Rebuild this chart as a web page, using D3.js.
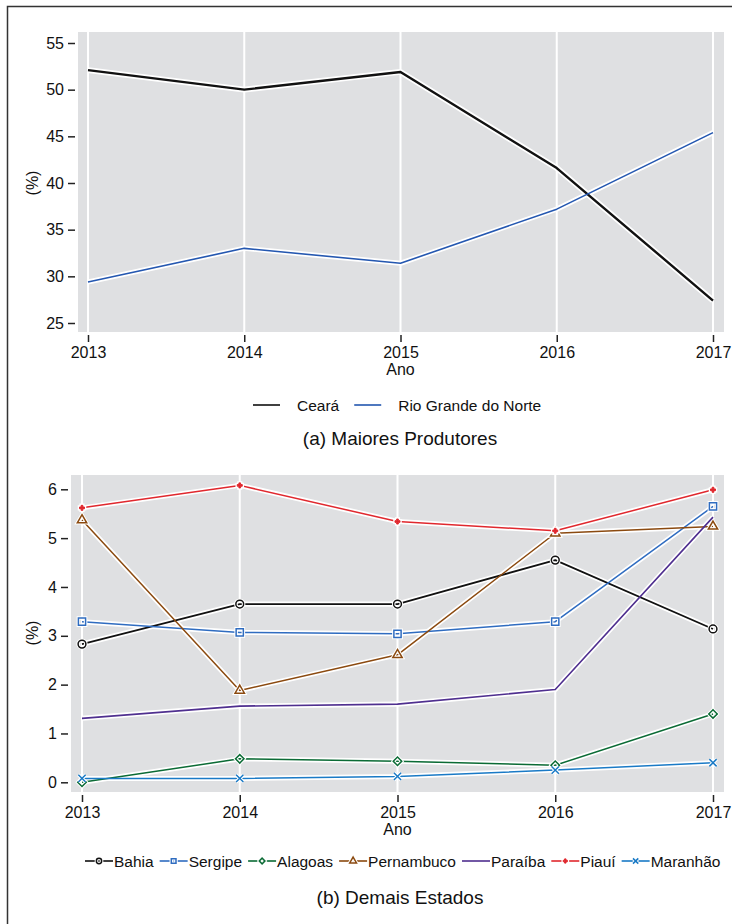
<!DOCTYPE html>
<html>
<head>
<meta charset="utf-8">
<script src="https://cdn.jsdelivr.net/npm/d3@7"></script>
<style>
  html, body { margin: 0; padding: 0; background: #fff; }
  svg { display: block; font-family: "Liberation Sans", Arial, sans-serif; }
</style>
</head>
<body>
<svg id="chart" width="732" height="924"></svg>
<script>
// Anos (eixo x comum aos dois painéis)
const years = [2013, 2014, 2015, 2016, 2017];

// Painel (a): maiores produtores, participação em %
const ceara = [52.1, 50.0, 51.9, 41.6, 27.4];
const rioGrandeDoNorte = [29.4, 33.0, 31.4, 37.2, 45.4];
const ticksA = [25, 30, 35, 40, 45, 50, 55];

// Painel (b): demais estados, participação em %
const bahia = [2.83, 3.65, 3.65, 4.55, 3.14];
const sergipe = [3.29, 3.07, 3.04, 3.29, 5.65];
const alagoas = [0.0, 0.48, 0.43, 0.35, 1.40];
const pernambuco = [5.37, 1.88, 2.61, 5.10, 5.24];
const paraiba = [1.31, 1.56, 1.60, 1.90, 5.43];
const piaui = [5.62, 6.08, 5.34, 5.15, 5.99];
const maranhao = [0.08, 0.08, 0.12, 0.25, 0.40];
const ticksB = [0, 1, 2, 3, 4, 5, 6];

const svg = d3.select("#chart");
const PLOT_BG = "#dfe0e2";
const FONT = "Liberation Sans, Arial, sans-serif";

// moldura
svg.append("path").attr("d", "M7.5,924 V6.5 H732")
  .attr("fill", "none").attr("stroke", "#333").attr("stroke-width", 1.5);

// o losango é um quadrado girado 45°, para ficar com largura = altura
const symbolFor = {
  circle: d3.symbolCircle, square: d3.symbolSquare, diamond: d3.symbolSquare,
  triangle: d3.symbolTriangle, plus: d3.symbolCross, x: d3.symbolX
};
const plotSizes = { circle: 48, square: 52, diamond: 36, triangle: 38, plus: 14, x: 36 };
const legendSizes = { circle: 22, square: 22, diamond: 16, triangle: 20, plus: 10, x: 20 };

function marker(g, type, x, y, color, size) {
  if (!type) return;
  const sym = d3.symbol().type(symbolFor[type]).size(size);
  const t = `translate(${x},${y})` + (type === "diamond" ? " rotate(45)" : "");
  g.append("path").attr("d", sym()).attr("transform", t)
    .attr("fill", "none").attr("stroke", "#fff").attr("stroke-width", 3.5);
  g.append("path").attr("d", sym()).attr("transform", t)
    .attr("fill", type === "plus" ? color : "none").attr("stroke", color)
    .attr("stroke-width", type === "plus" ? 1 : 1.5);
}

function panel(cfg) {
  const g = svg.append("g");
  const x = d3.scaleLinear().domain([2013, 2017]).range(cfg.xRange);
  const y = d3.scaleLinear().domain(cfg.yDomain).range(cfg.yRange);

  // área de plotagem
  g.append("rect").attr("x", cfg.plot[0]).attr("y", cfg.plot[1])
    .attr("width", cfg.plot[2] - cfg.plot[0]).attr("height", cfg.plot[3] - cfg.plot[1])
    .attr("fill", PLOT_BG);

  // grade vertical
  g.selectAll("line.grid").data(years).join("line")
    .attr("x1", d => x(d)).attr("x2", d => x(d))
    .attr("y1", cfg.plot[1]).attr("y2", cfg.plot[3])
    .attr("stroke", "#fff").attr("stroke-width", 2);

  // eixo y
  const ay = g.append("g").attr("transform", `translate(${cfg.plot[0] - 3},0)`)
    .call(d3.axisLeft(y).tickValues(cfg.ticks).tickFormat(d3.format("d")).tickSize(7).tickPadding(4));
  ay.select(".domain").remove();
  ay.attr("font-size", 16).attr("font-family", FONT);
  ay.selectAll(".tick line").attr("stroke", "#222").attr("stroke-width", 1.5);
  ay.selectAll("text").attr("fill", "#111");

  // eixo x
  const ax = g.append("g").attr("transform", `translate(0,${cfg.plot[3] + 3})`)
    .call(d3.axisBottom(x).tickValues(years).tickFormat(d3.format("d")).tickSize(7).tickPadding(5));
  ax.select(".domain").remove();
  ax.attr("font-size", 16).attr("font-family", FONT);
  ax.selectAll(".tick line").attr("stroke", "#222").attr("stroke-width", 1.5);
  ax.selectAll("text").attr("fill", "#111");

  // títulos dos eixos
  g.append("text").attr("x", x(2015)).attr("y", cfg.plot[3] + 43)
    .attr("text-anchor", "middle").attr("font-size", 16).attr("fill", "#111").text("Ano");
  g.append("text")
    .attr("transform", `translate(${cfg.yTitleX},${cfg.yTitleY}) rotate(-90)`)
    .attr("text-anchor", "middle").attr("font-size", 16).attr("fill", "#111").text("(%)");

  // séries
  const line = d3.line().x((d, i) => x(years[i])).y(d => y(d));
  cfg.series.forEach(s => {
    g.append("path").attr("d", line(s.values)).attr("fill", "none")
      .attr("stroke", "#fff").attr("stroke-width", s.width + 3.5)
      .attr("stroke-linejoin", "round");
  });
  cfg.series.forEach(s => {
    g.append("path").attr("d", line(s.values)).attr("fill", "none")
      .attr("stroke", s.color).attr("stroke-width", s.width)
      .attr("stroke-linejoin", "round");
    if (s.marker) s.values.forEach((v, i) =>
      marker(g, s.marker, x(years[i]), y(v), s.color, plotSizes[s.marker]));
  });

  // legenda
  const lg = g.append("g").attr("transform", `translate(0,${cfg.legendY})`);
  let cx = cfg.legendX;
  cfg.series.forEach(s => {
    lg.append("line").attr("x1", cx).attr("x2", cx + cfg.sampleW).attr("y1", 0).attr("y2", 0)
      .attr("stroke", s.color).attr("stroke-width", cfg.legendLineW);
    if (s.marker) marker(lg, s.marker, cx + cfg.sampleW / 2, 0, s.color, legendSizes[s.marker]);
    const t = lg.append("text").attr("x", cx + cfg.sampleW + cfg.textGap).attr("y", 5.5)
      .attr("font-size", 15.5).attr("fill", "#111").text(s.name);
    cx += cfg.sampleW + cfg.textGap + t.node().getComputedTextLength() + cfg.itemGap;
  });

  // título do painel
  g.append("text").attr("x", cfg.titleX).attr("y", cfg.titleY)
    .attr("text-anchor", "middle").attr("font-size", 19).attr("fill", "#111").text(cfg.title);
}

panel({
  xRange: [88, 713], yDomain: [25, 55], yRange: [323, 43],
  plot: [78, 32, 724, 332], ticks: ticksA, yTitleX: 38, yTitleY: 183,
  series: [
    { name: "Ceará", values: ceara, color: "#111111", width: 2.4 },
    { name: "Rio Grande do Norte", values: rioGrandeDoNorte, color: "#2457b0", width: 1.6 }
  ],
  legendY: 405, legendX: 253, sampleW: 27, textGap: 17, itemGap: 15, legendLineW: 1.6,
  title: "(a) Maiores Produtores", titleX: 400, titleY: 445
});

panel({
  xRange: [82, 713], yDomain: [0, 6], yRange: [782.3, 489.3],
  plot: [71, 475, 724, 792], ticks: ticksB, yTitleX: 38, yTitleY: 633,
  series: [
    { name: "Bahia", values: bahia, color: "#111111", width: 1.8, marker: "circle" },
    { name: "Sergipe", values: sergipe, color: "#2f6cc0", width: 1.5, marker: "square" },
    { name: "Alagoas", values: alagoas, color: "#0b6b35", width: 1.5, marker: "diamond" },
    { name: "Pernambuco", values: pernambuco, color: "#8b4a10", width: 1.5, marker: "triangle" },
    { name: "Paraíba", values: paraiba, color: "#4f2f8f", width: 1.6 },
    { name: "Piauí", values: piaui, color: "#e0282e", width: 1.5, marker: "plus" },
    { name: "Maranhão", values: maranhao, color: "#1a7ac6", width: 1.5, marker: "x" }
  ],
  legendY: 861, legendX: 85, sampleW: 28, textGap: 1, itemGap: 6, legendLineW: 1.6,
  title: "(b) Demais Estados", titleX: 400, titleY: 904
});
</script>
</body>
</html>
